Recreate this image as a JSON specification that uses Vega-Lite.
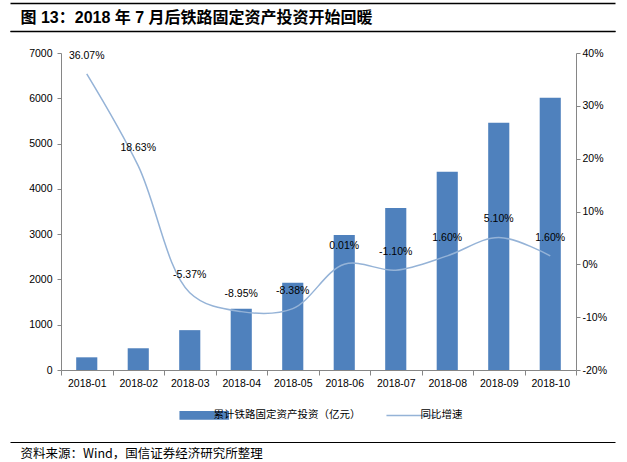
{
  "$schema": "https://vega.github.io/schema/vega-lite/v6.json",
  "width": 605,
  "height": 411,
  "autosize": {"type": "none"},
  "padding": {"left": 10, "top": 31, "right": 12, "bottom": 20},
  "background": "white",
  "config": {
    "view": {"stroke": null},
    "locale": {"number": {"decimal": ".", "thousands": ",", "grouping": [3], "currency": ["", ""], "minus": "-"}},
    "font": "Liberation Sans, Noto Sans CJK SC, sans-serif",
    "axis": {"labelFont": "Liberation Sans", "labelFontSize": 10.5, "labelColor": "#000", "domainColor": "#868686", "tickColor": "#868686", "grid": false}
  },
  "data": {
    "values": [
      {"month": "2018-01", "invest": 280, "yoy": 0.3607},
      {"month": "2018-02", "invest": 480, "yoy": 0.1863},
      {"month": "2018-03", "invest": 880, "yoy": -0.0537},
      {"month": "2018-04", "invest": 1355, "yoy": -0.0895},
      {"month": "2018-05", "invest": 1925, "yoy": -0.0838},
      {"month": "2018-06", "invest": 2980, "yoy": 0.0001},
      {"month": "2018-07", "invest": 3580, "yoy": -0.011},
      {"month": "2018-08", "invest": 4380, "yoy": 0.016},
      {"month": "2018-09", "invest": 5460, "yoy": 0.051},
      {"month": "2018-10", "invest": 6010, "yoy": 0.016}
    ]
  },
  "layer": [
    {
      "mark": {"type": "bar", "width": {"band": 0.41}},
      "encoding": {
        "x": {
          "field": "month", "type": "nominal", "sort": null,
          "scale": {"range": [51, 566], "paddingInner": 0, "paddingOuter": 0},
          "axis": {"title": null, "labelAngle": 0, "offset": -72, "tickBand": "extent", "tickSize": 5, "labelPadding": 3}
        },
        "y": {
          "field": "invest", "type": "quantitative",
          "scale": {"domain": [0, 7000], "range": [339, 22], "nice": false},
          "axis": {"title": null, "values": [0, 1000, 2000, 3000, 4000, 5000, 6000, 7000], "format": "d", "offset": -51, "tickSize": 4, "labelPadding": 5}
        },
        "color": {
          "datum": "累计铁路固定资产投资（亿元）",
          "scale": {"domain": ["累计铁路固定资产投资（亿元）", "同比增速"], "range": ["#4F81BD", "#95B3D7"]},
          "legend": {
            "orient": "none", "legendX": 189, "legendY": 379, "direction": "horizontal", "title": null,
            "padding": 0, "symbolSize": 2460, "symbolType": "M-1,-0.18H1V0.18H-1Z",
            "labelFont": "Noto Sans CJK SC", "labelFontSize": 10.5, "labelColor": "#000",
            "labelOffset": 4, "columnPadding": 22,
            "encode": {
              "symbols": {
                "update": {
                  "shape": {"signal": "datum.value === '同比增速' ? 'M-1,0H1' : 'M-1,-0.18H1V0.18H-1Z'"},
                  "fill": {"signal": "datum.value === '同比增速' ? 'transparent' : '#4F81BD'"},
                  "stroke": {"signal": "datum.value === '同比增速' ? '#95B3D7' : 'transparent'"},
                  "strokeWidth": {"signal": "datum.value === '同比增速' ? 1.5 : 0"}
                }
              }
            }
          }
        }
      }
    },
    {
      "layer": [
        {
          "mark": {"type": "line", "interpolate": "catmull-rom", "strokeWidth": 1.5},
          "encoding": {
            "x": {"field": "month", "type": "nominal", "sort": null, "scale": {"range": [51, 566], "paddingInner": 0, "paddingOuter": 0}, "axis": null},
            "y": {
              "field": "yoy", "type": "quantitative",
              "scale": {"domain": [-0.2, 0.4], "range": [339, 22], "nice": false, "zero": false},
              "axis": {"orient": "right", "title": null, "format": ".0%", "values": [-0.2, -0.1, 0, 0.1, 0.2, 0.3, 0.4], "offset": -39, "tickSize": 4, "labelPadding": 2}
            },
            "color": {"datum": "同比增速"}
          }
        },
        {
          "mark": {"type": "text", "dy": -18, "fontSize": 10.5, "font": "Liberation Sans", "color": "#000"},
          "encoding": {
            "x": {"field": "month", "type": "nominal", "sort": null, "axis": null},
            "y": {"field": "yoy", "type": "quantitative"},
            "text": {"field": "yoy", "type": "quantitative", "format": ".2%"}
          }
        }
      ]
    },
    {
      "data": {"values": [{}]},
      "mark": {"type": "rule", "strokeOpacity": 0},
      "encoding": {
        "x": {
          "datum": 0, "type": "quantitative", "scale": {"domain": [0, 1]},
          "axis": {
            "orient": "top", "offset": 0, "domainColor": "#000", "domainWidth": 1.2, "ticks": false, "labels": false, "grid": false,
            "title": "图 13：2018 年 7 月后铁路固定资产投资开始回暖",
            "titleX": 10, "titleY": -14, "titleAlign": "left", "titleAnchor": "start", "titleBaseline": "middle",
            "titleFont": "Liberation Sans, Noto Sans CJK SC", "titleFontSize": 16, "titleFontWeight": "bold", "titleColor": "#000"
          }
        }
      }
    },
    {
      "data": {"values": [{}]},
      "mark": {"type": "rule", "strokeOpacity": 0},
      "encoding": {
        "y": {
          "datum": 0, "type": "quantitative",
          "scale": {"domain": [-28, 411], "range": [-28, 411], "nice": false, "zero": false},
          "axis": {
            "orient": "left", "values": [-28, 0], "grid": true, "gridColor": "#000", "gridWidth": 1.3, "gridOpacity": 1,
            "domain": false, "ticks": false, "labels": false, "title": null
          }
        }
      }
    },
    {
      "data": {"values": [{}]},
      "mark": {"type": "rule", "strokeOpacity": 0},
      "encoding": {
        "x": {
          "datum": 0, "type": "quantitative", "scale": {"domain": [0, 1]},
          "axis": {
            "orient": "bottom", "offset": 0, "domainColor": "#000", "domainWidth": 1.2, "ticks": false, "labels": false, "grid": false,
            "title": "资料来源：Wind，国信证券经济研究所整理",
            "titleX": 10, "titleY": 11, "titleAlign": "left", "titleAnchor": "start", "titleBaseline": "middle",
            "titleFont": "Noto Sans CJK SC", "titleFontSize": 12.5, "titleFontWeight": "normal", "titleColor": "#000"
          }
        }
      }
    }
  ],
  "resolve": {"scale": {"y": "independent", "x": "independent"}}
}
